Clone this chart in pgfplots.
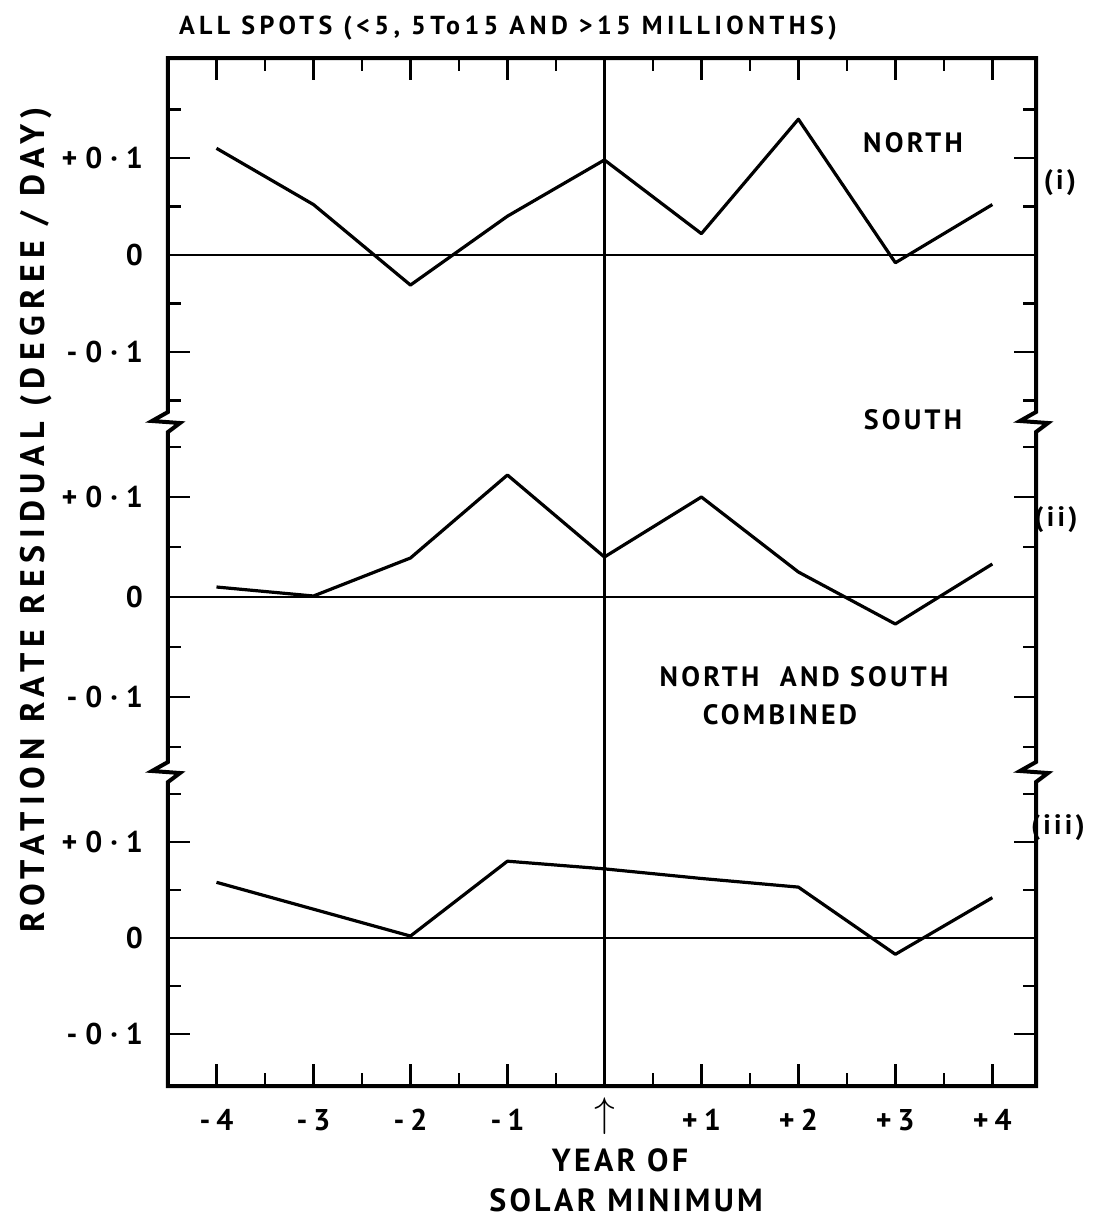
\documentclass[border=0pt]{standalone}
\usepackage{fontspec}
\setmainfont{PT Sans}
\usepackage{pgfplots}
\pgfplotsset{compat=1.18}
\newcommand\lab{\fontsize{14}{17}\selectfont\bfseries\addfontfeatures{LetterSpace=11.5}}
\newcommand\axlab{\fontsize{16}{19}\selectfont\bfseries\addfontfeatures{LetterSpace=10}}
\newcommand\ylab{\fontsize{17}{19}\selectfont\bfseries\addfontfeatures{LetterSpace=19}}
\newcommand\tlab{\fontsize{15}{17}\selectfont\bfseries}
\begin{document}
\begin{tikzpicture}
\useasboundingbox (-84pt,29pt) rectangle (463.5pt,-582pt);
\pgfplotsset{
  panel/.style={
    scale only axis, width=434pt, xmin=-4.5, xmax=4.45,
    axis line style={draw=none},
    tick align=inside,
    major tick length=11pt, minor tick length=6.5pt,
    tick style={black, line width=1.3pt},
    ytick={-0.1,0,0.1},
    yticklabels={-\kern4pt0\kern4pt·\kern4pt1, 0, +\kern4pt0\kern4pt·\kern4pt1},
    ytick pos=both, yticklabel pos=left,
    minor ytick={-0.15,-0.05,0.05,0.15},
    xtick={-4,...,4}, minor xtick={-3.5,-2.5,...,3.5},
    clip=false,
    yticklabel style={font=\tlab, xshift=-9pt},
    xticklabel style={font=\tlab, yshift=-8pt},
  },
  zero/.style={line width=1pt, black},
  vline/.style={line width=1.4pt, black},
  data/.style={line width=1.6pt, black, line join=round},
}
% Panel (i): North
\begin{axis}[panel, at={(0,0)}, anchor=north west, height=182pt,
  ymin=-0.1722, ymax=0.2031, xtick pos=right, xticklabels={}]
\addplot[zero] coordinates {(-4.5,0) (4.45,0)};
\addplot[vline] coordinates {(0,-0.1722) (0,0.2031)};
\addplot[data] coordinates {(-4,0.110) (-3,0.052) (-2,-0.031) (-1,0.040) (0,0.098) (1,0.022) (2,0.140) (3,-0.008) (4,0.052)};
\end{axis}
% Panel (ii): South
\begin{axis}[panel, at={(0,-182pt)}, anchor=north west, height=175pt,
  ymin=-0.175, ymax=0.175, xtick=\empty, minor xtick={}]
\addplot[zero] coordinates {(-4.5,0) (4.45,0)};
\addplot[vline] coordinates {(0,-0.175) (0,0.175)};
\addplot[data] coordinates {(-4,0.010) (-3,0.001) (-2,0.039) (-1,0.122) (0,0.040) (1,0.100) (2,0.025) (3,-0.027) (4,0.033)};
\end{axis}
% Panel (iii): North and South combined
\begin{axis}[panel, at={(0,-357pt)}, anchor=north west, height=157pt,
  ymin=-0.1542, ymax=0.1729, xtick pos=left, minor ytick={-0.05,0.05,0.15},
  xticklabels={-\kern3pt4, -\kern3pt3, -\kern3pt2, -\kern3pt1, {\fontsize{20}{20}\selectfont\raisebox{1.5pt}[10pt][0pt]{$\uparrow$}}, +\kern3pt1, +\kern3pt2, +\kern3pt3, +\kern3pt4}]
\addplot[zero] coordinates {(-4.5,0) (4.45,0)};
\addplot[vline] coordinates {(0,-0.1542) (0,0.1729)};
\addplot[data] coordinates {(-4,0.058) (-2,0.002) (-1,0.080) (0,0.072) (1,0.062) (2,0.053) (3,-0.017) (4,0.042)};
\end{axis}
% frame with axis breaks
\draw[line width=2pt, line join=miter, line cap=rect]
  (0,0) -- (0,-177pt) -- (-8pt,-181.5pt) -- (6pt,-182.5pt) -- (0,-187pt)
  -- (0,-352pt) -- (-8pt,-356.5pt) -- (6pt,-357.5pt) -- (0,-362pt)
  -- (0,-514pt) -- (434pt,-514pt)
  -- (434pt,-362pt) -- (440pt,-357.5pt) -- (426pt,-356.5pt) -- (434pt,-352pt)
  -- (434pt,-187pt) -- (440pt,-182.5pt) -- (426pt,-181.5pt) -- (434pt,-177pt)
  -- (434pt,0) -- cycle;
% labels
\node[anchor=west, font=\fontsize{13}{15}\selectfont\bfseries\addfontfeatures{LetterSpace=17}] at (2pt,15pt) {ALL SPOTS (<5, 5To15 AND >15 MILLIONTHS)};
\node[font=\lab] at (372.5pt,-42.5pt) {NORTH};
\node[font=\lab] at (372.5pt,-181pt) {SOUTH};
\node[font=\lab] at (318pt,-309.5pt) {NORTH\ \ AND SOUTH};
\node[font=\lab] at (306pt,-328.5pt) {COMBINED};
\node[font=\lab] at (446pt,-62.5pt) {(i)};
\node[font=\lab] at (444pt,-231pt) {(ii)};
\node[font=\lab] at (445pt,-385pt) {(iii)};
\node[font=\ylab, rotate=90] at (-66pt,-231pt) {ROTATION RATE RESIDUAL (DEGREE / DAY)};
\node[font=\axlab] at (226pt,-551pt) {YEAR OF};
\node[font=\axlab] at (229pt,-571pt) {SOLAR MINIMUM};
\end{tikzpicture}
\end{document}
